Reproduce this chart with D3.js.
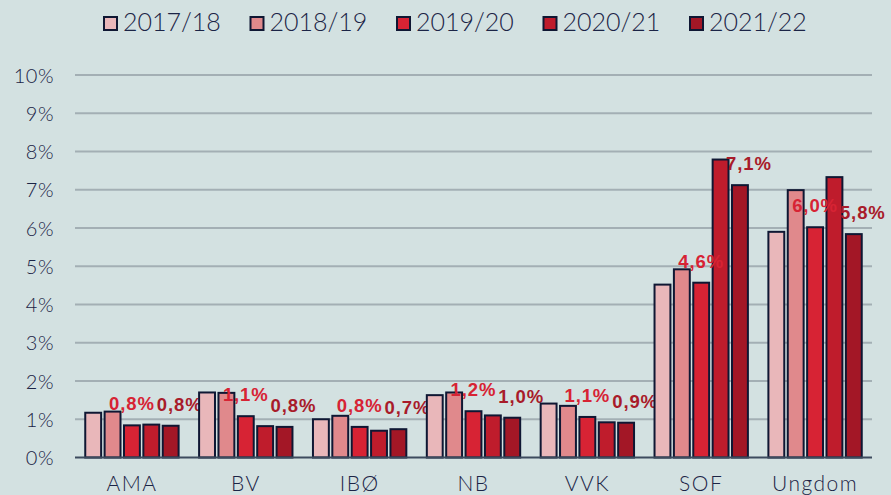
<!DOCTYPE html>
<html>
<head>
<meta charset="utf-8">
<script src="https://cdn.jsdelivr.net/npm/d3@7"></script>
<style>
  body { margin: 0; background: #d3e1e1; }
  svg { display: block; font-family: Lato, "Noto Sans", sans-serif; font-weight: 300; }
</style>
</head>
<body>
<svg id="chart"></svg>
<script>
// Data (percent)
const categories = ['AMA', 'BV', 'IBØ', 'NB', 'VVK', 'SOF', 'Ungdom'];
const seriesNames = ['2017/18', '2018/19', '2019/20', '2020/21', '2021/22'];
const v201718 = [1.17, 1.70, 1.00, 1.63, 1.41, 4.52, 5.90];
const v201819 = [1.20, 1.69, 1.09, 1.70, 1.35, 4.92, 6.99];
const v201920 = [0.84, 1.08, 0.80, 1.21, 1.06, 4.57, 6.02];
const v202021 = [0.86, 0.82, 0.70, 1.10, 0.92, 7.79, 7.33];
const v202122 = [0.83, 0.80, 0.74, 1.04, 0.91, 7.12, 5.84];
const yTicks = [0, 1, 2, 3, 4, 5, 6, 7, 8, 9, 10];
// only these series get value labels
const labelled = ['2019/20', '2021/22'];

const values = [v201718, v201819, v201920, v202021, v202122];
const colors = ['#e9b7ba', '#e0898c', '#d72334', '#bf1c2c', '#a31726'];
const labelColors = { '2019/20': '#d72334', '2021/22': '#a81b2a' };

const width = 891, height = 495;
const margin = { top: 75, right: 19, bottom: 37, left: 75 };

const svg = d3.select('#chart')
    .attr('width', width)
    .attr('height', height);

const x0 = d3.scaleBand()
    .domain(categories)
    .range([margin.left, width - margin.right])
    .paddingInner(0.18)
    .paddingOuter(0.09);

const x1 = d3.scaleBand()
    .domain(seriesNames)
    .range([0, x0.bandwidth()])
    .paddingInner(0.18);

const y = d3.scaleLinear()
    .domain([0, 10])
    .range([height - margin.bottom - 0.5, margin.top]);

// Gridlines
svg.append('g')
    .selectAll('line')
    .data(yTicks.filter(d => d > 0))
    .enter()
    .append('line')
    .attr('x1', margin.left)
    .attr('x2', width - margin.right)
    .attr('y1', d => y(d))
    .attr('y2', d => y(d))
    .attr('stroke', '#a3afb4')
    .attr('stroke-width', 2);

// Y axis labels
const yAxis = d3.axisLeft(y)
    .tickValues(yTicks)
    .tickFormat(d => d + '%')
    .tickSize(0)
    .tickPadding(21);

svg.append('g')
    .attr('transform', `translate(${margin.left},0)`)
    .call(yAxis)
    .call(g => g.select('.domain').remove())
    .selectAll('text')
    .attr('fill', '#1b2446')
    .attr('font-family', 'Lato, sans-serif')
    .attr('font-size', 20)
    .attr('letter-spacing', 0.5)
    .attr('dy', '0.36em');

// Bars
const groups = svg.append('g')
    .selectAll('g')
    .data(categories)
    .enter()
    .append('g')
    .attr('transform', d => `translate(${x0(d)},0)`);

groups.selectAll('rect')
    .data((c, ci) => seriesNames.map((s, si) => ({ series: s, si, value: values[si][ci] })))
    .enter()
    .append('rect')
    .attr('x', d => x1(d.series))
    .attr('y', d => y(d.value))
    .attr('width', x1.bandwidth())
    .attr('height', d => y(0) - y(d.value))
    .attr('fill', d => colors[d.si])
    .attr('stroke', '#0f1733')
    .attr('stroke-width', 2);

// Value labels
groups.selectAll('text.val')
    .data((c, ci) => seriesNames
        .map((s, si) => ({ series: s, si, value: values[si][ci] }))
        .filter(d => labelled.includes(d.series)))
    .enter()
    .append('text')
    .attr('class', 'val')
    .attr('x', d => x1(d.series) + x1.bandwidth() / 2 + (d.series === '2021/22' ? 9 : 0))
    .attr('y', d => y(d.value) - 15)
    .attr('text-anchor', 'middle')
    .attr('font-family', '"Liberation Sans", Arial, sans-serif')
    .attr('font-weight', 'bold')
    .attr('font-size', 18.5)
    .attr('letter-spacing', 0.9)
    .attr('fill', d => labelColors[d.series])
    .text(d => d3.format('.1f')(d.value).replace('.', ',') + '%');

// Baseline
svg.append('line')
    .attr('x1', margin.left)
    .attr('x2', width - margin.right)
    .attr('y1', y(0))
    .attr('y2', y(0))
    .attr('stroke', '#3d4b5e')
    .attr('stroke-width', 2);

// X axis labels
const xAxis = d3.axisBottom(x0).tickSize(0).tickPadding(19);
svg.append('g')
    .attr('transform', `translate(0,${y(0)})`)
    .call(xAxis)
    .call(g => g.select('.domain').remove())
    .selectAll('text')
    .attr('fill', '#1b2446')
    .attr('font-family', 'Lato, sans-serif')
    .attr('font-size', 21)
    .attr('letter-spacing', 1.5);

// Legend
const legend = svg.append('g')
    .selectAll('g')
    .data(seriesNames)
    .enter()
    .append('g')
    .attr('transform', (d, i) => `translate(${104 + i * 146.5},17)`);

legend.append('rect')
    .attr('width', 13)
    .attr('height', 13)
    .attr('fill', (d, i) => colors[i])
    .attr('stroke', '#0f1733')
    .attr('stroke-width', 2);

legend.append('text')
    .attr('x', 19)
    .attr('y', 14)
    .attr('font-size', 25)
    .attr('fill', '#1b2446')
    .text(d => d);
</script>
</body>
</html>
